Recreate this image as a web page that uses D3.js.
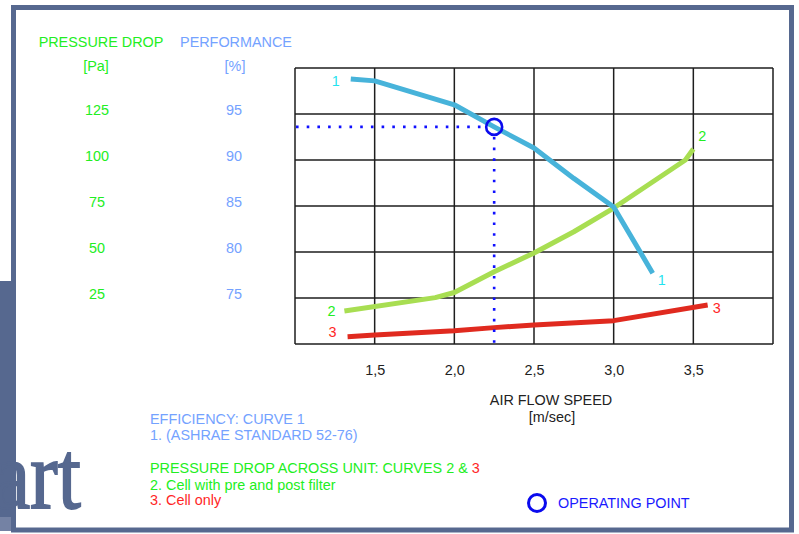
<!DOCTYPE html>
<html>
<head>
<meta charset="utf-8">
<script src="https://cdn.jsdelivr.net/npm/d3@7"></script>
<style>
  body { margin: 0; background: #fff; }
  svg text { font-family: "Liberation Sans", Arial, sans-serif; }
</style>
</head>
<body>
<div id="chart"></div>
<script>
// tick labels
let speedTicks = [1.5, 2.0, 2.5, 3.0, 3.5];
let pressureTicks = [25, 50, 75, 100, 125];
let performanceTicks = [75, 80, 85, 90, 95];

// curve 1: efficiency [%] vs air flow speed [m/sec]
let curve1 = [[1.35, 98.8], [1.5, 98.6], [2.0, 96.0], [2.25, 93.6], [2.5, 91.3], [2.75, 88.0], [3.0, 84.9], [3.245, 77.7]];
// curve 2: pressure drop [Pa], cell with pre and post filter
let curve2 = [[1.31, 17.9], [1.88, 25.2], [2.0, 28.0], [2.25, 39.3], [2.5, 49.5], [2.75, 61.0], [3.0, 73.9], [3.45, 100], [3.5, 106]];
// curve 3: pressure drop [Pa], cell only
let curve3 = [[1.33, 4.0], [1.5, 4.9], [2.0, 7.2], [2.25, 8.9], [2.5, 10.3], [3.0, 12.7], [3.59, 21.2]];

let operatingPoint = [2.25, 93.6];

let width = 799;
let height = 534;

let plot = {left: 295, right: 773, top: 68, bottom: 344};

let slate = '#56688f';
let green = '#22ee22';
let blue = '#74a2ff';
let red = '#ff2626';
let cyan = '#1fe3ef';
let opBlue = '#1010ff';

let x = d3.scaleLinear()
  .domain([1, 4])
  .range([plot.left, plot.right]);

let yPerf = d3.scaleLinear()
  .domain([70, 100])
  .range([plot.bottom, plot.top]);

let yPa = d3.scaleLinear()
  .domain([0, 150])
  .range([plot.bottom, plot.top]);

const svg = d3.select('#chart').append('svg')
  .attr('width', width)
  .attr('height', height);

// slide background pieces
svg.append('rect')
  .attr('x', 0).attr('y', 281).attr('width', 16).attr('height', 236)
  .attr('fill', slate);
svg.append('rect')
  .attr('x', 0).attr('y', 517).attr('width', 12).attr('height', 14)
  .attr('fill', '#7482a4');
svg.append('rect')
  .attr('x', 13.5).attr('y', 7.5).attr('width', 778).attr('height', 522.5)
  .attr('fill', '#fff')
  .attr('stroke', slate)
  .attr('stroke-width', 5);

svg.append('text')
  .attr('transform', 'translate(81, 508) scale(0.85, 1)')
  .attr('text-anchor', 'end')
  .attr('font-size', 98)
  .style('font-family', '"Liberation Serif", serif')
  .attr('fill', slate)
  .attr('stroke', slate)
  .attr('stroke-width', 1.8)
  .text('Chart');

// grid
let gridX = d3.range(1, 4.01, 0.5);
let gridY = d3.range(70, 100.01, 5);

svg.append('g')
  .selectAll('line')
  .data(gridX)
  .join('line')
  .attr('x1', d => x(d)).attr('x2', d => x(d))
  .attr('y1', plot.top).attr('y2', plot.bottom)
  .attr('stroke', '#1e1e1e')
  .attr('stroke-width', 1.5);

svg.append('g')
  .selectAll('line')
  .data(gridY)
  .join('line')
  .attr('x1', plot.left).attr('x2', plot.right)
  .attr('y1', d => yPerf(d)).attr('y2', d => yPerf(d))
  .attr('stroke', '#1e1e1e')
  .attr('stroke-width', 1.5);

// x axis labels
svg.append('g')
  .attr('transform', `translate(0, ${plot.bottom})`)
  .call(d3.axisBottom(x).tickValues(speedTicks).tickSize(0).tickPadding(21)
    .tickFormat(d => d3.format('.1f')(d).replace('.', ',')))
  .call(g => g.select('.domain').remove())
  .call(g => g.selectAll('text')
    .attr('font-size', 14.4)
    .attr('fill', '#222'));

// left value columns
let leftAxis = (scale, ticks, xPos, color) => g => g
  .attr('transform', `translate(${xPos}, -4.5)`)
  .call(d3.axisLeft(scale).tickValues(ticks).tickSize(0).tickPadding(0))
  .call(g => g.select('.domain').remove())
  .call(g => g.selectAll('text')
    .attr('text-anchor', 'middle')
    .attr('font-size', 14.4)
    .attr('fill', color));

svg.append('g').call(leftAxis(yPa, pressureTicks, 97, green));
svg.append('g').call(leftAxis(yPerf, performanceTicks, 234, blue));

let label = (txt, lx, ly, color, anchor) => svg.append('text')
  .attr('x', lx).attr('y', ly)
  .attr('text-anchor', anchor || 'middle')
  .attr('font-size', 14.4)
  .attr('fill', color)
  .text(txt);

label('PRESSURE DROP', 101, 47, green);
label('[Pa]', 96, 71, green);
label('PERFORMANCE', 236, 47, blue);
label('[%]', 235, 71, blue);

// curves
let linePerf = d3.line()
  .x(d => x(d[0]))
  .y(d => yPerf(d[1]));

let linePa = d3.line()
  .x(d => x(d[0]))
  .y(d => yPa(d[1]));

svg.append('path')
  .datum(curve3)
  .attr('fill', 'none')
  .attr('stroke', '#e02a1f')
  .attr('stroke-width', 5)
  .attr('stroke-linejoin', 'round')
  .attr('d', linePa);

svg.append('path')
  .datum(curve2)
  .attr('fill', 'none')
  .attr('stroke', '#a8de52')
  .attr('stroke-width', 5)
  .attr('stroke-linejoin', 'round')
  .attr('d', linePa);

svg.append('path')
  .datum(curve1)
  .attr('fill', 'none')
  .attr('stroke', '#47b3da')
  .attr('stroke-width', 5)
  .attr('stroke-linejoin', 'round')
  .attr('d', linePerf);

// curve numbers
let first = a => a[0];
let last = a => a[a.length - 1];

label('1', x(first(curve1)[0]) - 15, yPerf(first(curve1)[1]) + 7, cyan);
label('1', x(last(curve1)[0]) + 9, yPerf(last(curve1)[1]) + 12, cyan);
label('2', x(first(curve2)[0]) - 13, yPa(first(curve2)[1]) + 5, green);
label('2', x(last(curve2)[0]) + 9, yPa(last(curve2)[1]) - 8, green);
label('3', x(first(curve3)[0]) - 15, yPa(first(curve3)[1]) + 0, red);
label('3', x(last(curve3)[0]) + 9, yPa(last(curve3)[1]) + 8, red);

// operating point
let opX = x(operatingPoint[0]);
let opY = yPerf(operatingPoint[1]);
let r = 8;

svg.append('line')
  .attr('x1', plot.left + 1).attr('x2', opX - r - 1)
  .attr('y1', opY).attr('y2', opY)
  .attr('stroke', opBlue)
  .attr('stroke-width', 2.6)
  .attr('stroke-dasharray', '2.6 8.1');

svg.append('line')
  .attr('x1', opX).attr('x2', opX)
  .attr('y1', opY + r + 2).attr('y2', plot.bottom)
  .attr('stroke', opBlue)
  .attr('stroke-width', 2.6)
  .attr('stroke-dasharray', '2.6 8.1');

svg.append('circle')
  .attr('cx', opX).attr('cy', opY).attr('r', r)
  .attr('fill', 'none')
  .attr('stroke', '#0a0aee')
  .attr('stroke-width', 2.6);

// axis title
label('AIR FLOW SPEED', 551, 405, '#222');
label('[m/sec]', 552, 422, '#222');

// notes
label('EFFICIENCY: CURVE 1', 150, 424, blue, 'start');
label('1. (ASHRAE STANDARD 52-76)', 150, 440, blue, 'start');
let note = label('PRESSURE DROP ACROSS UNIT: CURVES 2 & ', 150, 473, green, 'start');
note.append('tspan').attr('fill', red).text('3');
label('2. Cell with pre and post filter', 150, 489.5, green, 'start');
label('3. Cell only', 150, 505, red, 'start');

// legend
svg.append('circle')
  .attr('cx', 537).attr('cy', 503).attr('r', 8.5)
  .attr('fill', 'none')
  .attr('stroke', '#0a0aee')
  .attr('stroke-width', 3);
label('OPERATING POINT', 558, 508, '#1a1aff', 'start');
</script>
</body>
</html>
